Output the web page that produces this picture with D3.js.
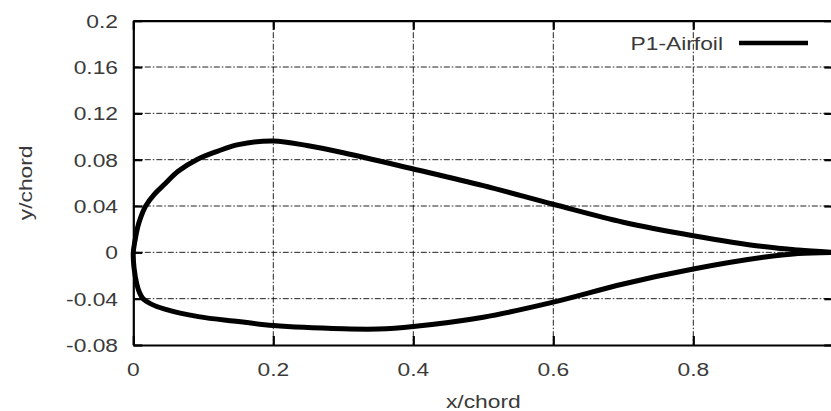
<!DOCTYPE html>
<html>
<head>
<meta charset="utf-8">
<script src="https://cdn.jsdelivr.net/npm/d3@7"></script>
<style>
	body { margin: 0; background: #fff; }
	text { font-family: "Liberation Sans", Arial, sans-serif; fill: #3a3a3a; }
</style>
</head>
<body>
<div id="chart"></div>
<script>
// Airfoil outline
// trailing edge -> upper surface -> leading edge
var upperX = [1.0, 0.95, 0.9, 0.8, 0.7, 0.6, 0.5, 0.4, 0.3, 0.25, 0.2, 0.15, 0.12, 0.0905, 0.064, 0.045, 0.03, 0.0177, 0.0105, 0.0062, 0.0024, 0.0];
var upperY = [0.0, 0.002, 0.005, 0.0144, 0.026, 0.0415, 0.0576, 0.072, 0.086, 0.092, 0.0962, 0.093, 0.0872, 0.08, 0.07, 0.059, 0.05, 0.04, 0.03, 0.0216, 0.01, 0.0];
// leading edge -> lower surface -> trailing edge
var lowerX = [0.001, 0.005, 0.009, 0.014, 0.025, 0.045, 0.093, 0.15, 0.2, 0.3, 0.35, 0.4, 0.5, 0.6, 0.7, 0.8, 0.9, 0.95, 1.0];
var lowerY = [-0.013, -0.0273, -0.035, -0.04, -0.0445, -0.049, -0.0555, -0.0597, -0.0632, -0.066, -0.0662, -0.064, -0.056, -0.043, -0.0273, -0.0144, -0.0043, -0.001, 0.0];

var xTicks = [0, 0.2, 0.4, 0.6, 0.8, 1];
var xLabels = ["0", "0.2", "0.4", "0.6", "0.8"];	// "1" falls off the right edge
var yTicks = [-0.08, -0.04, 0, 0.04, 0.08, 0.12, 0.16, 0.2];
var yLabels = ["-0.08", "-0.04", "0", "0.04", "0.08", "0.12", "0.16", "0.2"];
var seriesName = "P1-Airfoil";

var width = 831, height = 411;
// NOTE: don't call these top/left globals, window.top is taken
var plotLeft = 133.3, plotRight = 833.3, plotTop = 20.7, plotBottom = 345;
var stretch = 1.2;	// the text in the picture is a bit wide

var xRange = d3.scaleLinear().domain([0, 1]).range([plotLeft, plotRight]);
var yRange = d3.scaleLinear().domain([-0.08, 0.2]).range([plotBottom, plotTop]);

var svg = d3.select("#chart").append("svg")
	.attr("width", width)
	.attr("height", height);

// grid
var grid = svg.append("g")
	.attr("stroke", "#222")
	.attr("stroke-width", 1)
	.attr("stroke-dasharray", "6,2,1.5,2");
grid.selectAll(".gx").data(xTicks.slice(1, -1)).enter().append("line")
	.attr("x1", d => xRange(d)).attr("x2", d => xRange(d))
	.attr("y1", plotTop).attr("y2", plotBottom);
grid.selectAll(".gy").data(yTicks.slice(1, -1)).enter().append("line")
	.attr("x1", plotLeft).attr("x2", plotRight)
	.attr("y1", d => yRange(d)).attr("y2", d => yRange(d));

// the outline
var points = upperX.map((x, i) => [x, upperY[i]])
	.concat(lowerX.map((x, i) => [x, lowerY[i]]));
svg.append("path")
	.attr("d", d3.line()
		.x(d => xRange(d[0]))
		.y(d => yRange(d[1]))
		.curve(d3.curveCatmullRom)(points))
	.attr("fill", "none")
	.attr("stroke", "#000")
	.attr("stroke-width", 5)
	.attr("stroke-linejoin", "round");

// axes, mirrored on all four sides like gnuplot does
var tickLen = 9;
var axes = [
	[d3.axisBottom(xRange).tickValues(xTicks), "translate(0," + plotBottom + ")"],
	[d3.axisTop(xRange).tickValues(xTicks), "translate(0," + plotTop + ")"],
	[d3.axisLeft(yRange).tickValues(yTicks), "translate(" + plotLeft + ",0)"],
	[d3.axisRight(yRange).tickValues(yTicks), "translate(" + plotRight + ",0)"]
];
axes.forEach(function(a) {
	var g = svg.append("g")
		.attr("transform", a[1])
		.call(a[0].tickSizeInner(-tickLen).tickSizeOuter(0).tickFormat(""));
	g.select(".domain").attr("stroke", "#000").attr("stroke-width", 2.2);
	g.selectAll(".tick line").attr("stroke", "#000").attr("stroke-width", 2.2);
	g.selectAll(".tick text").remove();
});

// tick labels
svg.selectAll(".xl").data(xLabels).enter().append("text")
	.attr("transform", d => "translate(" + xRange(+d) + ",376) scale(" + stretch + ",1)")
	.attr("text-anchor", "middle")
	.attr("font-size", 19)
	.text(d => d);
svg.selectAll(".yl").data(yLabels).enter().append("text")
	.attr("transform", d => "translate(118," + (yRange(+d) + 7) + ") scale(" + stretch + ",1)")
	.attr("text-anchor", "end")
	.attr("font-size", 19)
	.text(d => d);

// axis titles
svg.append("text")
	.attr("transform", "translate(" + xRange(0.5) + ",408) scale(" + stretch + ",1)")
	.attr("text-anchor", "middle")
	.attr("font-size", 19)
	.text("x/chord");
svg.append("text")
	.attr("transform", "translate(32," + ((plotTop + plotBottom) / 2) + ") rotate(-90) scale(" + stretch + ",1)")
	.attr("text-anchor", "middle")
	.attr("font-size", 19)
	.text("y/chord");

// legend
svg.append("text")
	.attr("transform", "translate(723,50) scale(" + stretch + ",1)")
	.attr("text-anchor", "end")
	.attr("font-size", 19)
	.text(seriesName);
svg.append("line")
	.attr("x1", 739).attr("x2", 808)
	.attr("y1", 43).attr("y2", 43)
	.attr("stroke", "#000")
	.attr("stroke-width", 4.5);
</script>
</body>
</html>
